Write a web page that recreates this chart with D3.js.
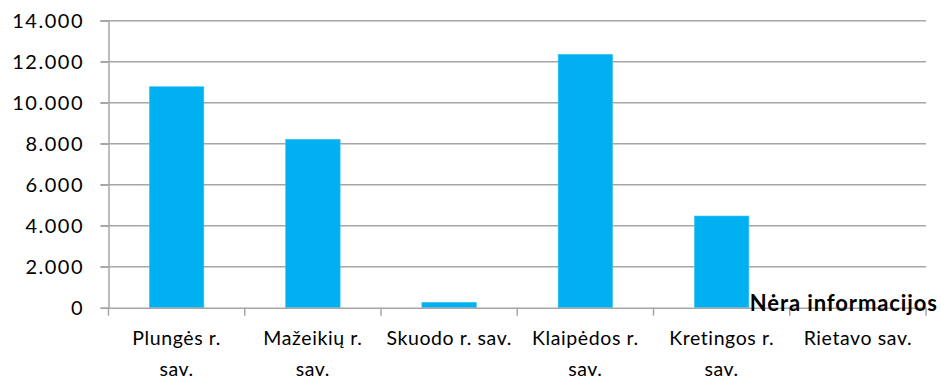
<!DOCTYPE html>
<html>
<head>
<meta charset="utf-8">
<script src="https://cdn.jsdelivr.net/npm/d3@7"></script>
<style>
  html, body { margin: 0; padding: 0; background: #ffffff; }
  svg { display: block; }
  text { font-family: Lato, "Open Sans", sans-serif; fill: #000; }
</style>
</head>
<body>
<svg id="chart" width="941" height="378"></svg>
<script>
// ---- data ----
const categories = ["Plungės r.\nsav.", "Mažeikių r.\nsav.", "Skuodo r. sav.", "Klaipėdos r.\nsav.", "Kretingos r.\nsav.", "Rietavo sav."];
const values = [10780, 8215, 263, 12361, 4473, null];
const yTicks = [0, 2000, 4000, 6000, 8000, 10000, 12000, 14000];
const yTickLabels = ["0", "2.000", "4.000", "6.000", "8.000", "10.000", "12.000", "14.000"];
const noInfoLabel = "Nėra informacijos";

// ---- layout ----
const W = 941, H = 378;
const margin = { left: 108.5, right: 15, top: 20.7, bottom: 70.3 };
const svg = d3.select("#chart");
const x = d3.scaleBand().domain(categories).range([margin.left, W - margin.right]).paddingInner(0.6).paddingOuter(0.3);
const xb = d3.scaleBand().domain(categories).range([margin.left, W - margin.right]);
const y = d3.scaleLinear().domain([0, 14000]).range([H - margin.bottom, margin.top]);
const gridColor = "#a6a6a6";

// gridlines
svg.append("g").selectAll("line").data(yTicks.slice(1)).join("line")
  .attr("x1", margin.left - 8).attr("x2", W - margin.right)
  .attr("y1", d => y(d)).attr("y2", d => y(d))
  .attr("stroke", gridColor).attr("stroke-width", 1.5);

// bars
svg.append("g").selectAll("rect").data(categories.map((c, i) => ({ c, v: values[i] })).filter(d => d.v != null)).join("rect")
  .attr("x", d => x(d.c)).attr("width", x.bandwidth())
  .attr("y", d => y(d.v)).attr("height", d => y(0) - y(d.v))
  .attr("fill", "#00b0f0").attr("stroke", "#40c8f4").attr("stroke-width", 0.6);

// y axis
const yAxis = d3.axisLeft(y).tickValues(yTicks).tickSize(8).tickPadding(16.5)
  .tickFormat((d, i) => yTickLabels[i]);
const gy = svg.append("g").attr("transform", `translate(${margin.left},0)`).call(yAxis);
gy.select(".domain").attr("stroke", gridColor).attr("stroke-width", 1.5);
gy.selectAll(".tick line").attr("stroke", gridColor).attr("stroke-width", 1.5);
gy.selectAll(".tick text").attr("font-size", 20).attr("font-family", "Lato, sans-serif")
  .attr("letter-spacing", 1.5).attr("fill", "#000").attr("dy", "0.36em");

// x axis
const xAxis = d3.axisBottom(xb).tickSize(0).tickFormat("");
const gx = svg.append("g").attr("transform", `translate(0,${y(0)})`).call(xAxis);
gx.select(".domain").attr("stroke", gridColor).attr("stroke-width", 1.5);
// boundary ticks
const bounds = categories.map(c => xb(c)).concat([xb(categories[categories.length - 1]) + xb.bandwidth()]);
gx.append("g").selectAll("line").data(bounds).join("line")
  .attr("x1", d => d).attr("x2", d => d).attr("y1", 0).attr("y2", 8)
  .attr("stroke", gridColor).attr("stroke-width", 1.5);
// labels
const lab = gx.append("g").selectAll("text").data(categories).join("text")
  .attr("text-anchor", "middle").attr("font-size", 19.5).attr("letter-spacing", 0.6).attr("fill", "#000")
  .attr("transform", d => `translate(${xb(d) + xb.bandwidth() / 2},37.3)`);
lab.each(function(d) {
  const lines = d.split("\n");
  d3.select(this).selectAll("tspan").data(lines).join("tspan")
    .attr("x", 0).attr("dy", (l, i) => i === 0 ? 0 : 31).text(l => l);
});

// no information label for missing value
categories.forEach((c, i) => {
  if (values[i] == null) {
    svg.append("text").attr("x", xb(c) + xb.bandwidth() / 2 - 14).attr("y", y(0) + 3)
      .attr("text-anchor", "middle").attr("font-weight", "bold").attr("font-size", 22)
      .attr("letter-spacing", 0.9).attr("fill", "#000").text(noInfoLabel);
  }
});
</script>
</body>
</html>
